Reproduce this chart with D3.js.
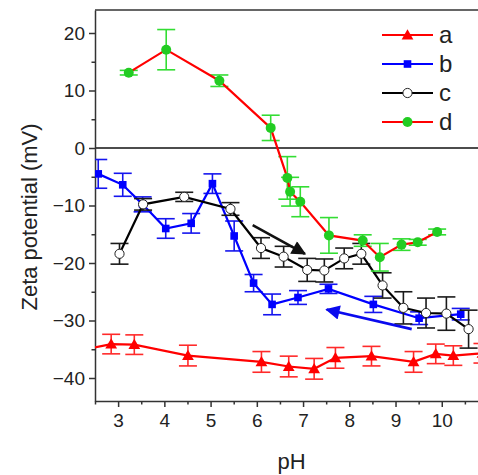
<!DOCTYPE html>
<html>
<head>
<meta charset="utf-8">
<script src="https://cdn.jsdelivr.net/npm/d3@7"></script>
<style>
  body { margin: 0; background: #fff; }
  svg { display: block; font-family: 'Liberation Sans', Arial, sans-serif; }
</style>
</head>
<body>
<svg id="chart" width="478" height="475"></svg>
<script>
// series values: pH, zeta potential (mV), error (+/-)
const phA = [2.3, 2.85, 3.35, 4.51, 6.10, 6.69, 7.24, 7.70, 8.48, 9.39, 9.87, 10.25, 10.88];
const zetaA = [-35.0, -34.1, -34.2, -36.1, -37.2, -38.0, -38.4, -36.5, -36.2, -37.2, -35.8, -36.1, -35.7];
const errA = [1.8, 1.7, 1.7, 1.8, 1.8, 1.8, 1.8, 1.8, 1.7, 1.8, 1.7, 1.7, 1.7];

const phB = [2.57, 3.10, 3.53, 4.03, 4.58, 5.04, 5.51, 5.93, 6.33, 6.89, 7.55, 8.52, 9.51, 10.41];
const zetaB = [-4.5, -6.4, -9.8, -14.0, -13.1, -6.2, -15.3, -23.5, -27.2, -26.0, -24.5, -27.2, -29.6, -28.9];
const errB = [2.5, 2.0, 1.3, 1.7, 1.7, 1.7, 2.6, 1.5, 1.8, 1.2, 0.8, 1.4, 1.1, 1.0];

const phC = [3.03, 3.54, 4.43, 5.43, 6.09, 6.58, 7.09, 7.46, 7.89, 8.26, 8.72, 9.17, 9.66, 10.1, 10.58];
const zetaC = [-18.4, -9.8, -8.5, -10.6, -17.4, -18.9, -21.2, -21.3, -19.2, -18.4, -23.9, -27.8, -28.7, -28.8, -31.5];
const errC = [1.8, 1.0, 0.8, 1.1, 1.8, 1.8, 2.0, 2.0, 1.8, 1.8, 2.2, 2.8, 2.6, 2.9, 3.3];

const phD = [3.23, 4.04, 5.19, 6.30, 6.66, 6.72, 6.94, 7.56, 8.29, 8.66, 9.13, 9.48, 9.90];
const zetaD = [13.1, 17.1, 11.7, 3.5, -5.2, -7.6, -9.35, -15.2, -16.1, -19.0, -16.8, -16.4, -14.6];
const errD = [0.4, 3.5, 1.0, 2.2, 3.7, 2.5, 2.6, 3.1, 1.0, 2.4, 1.0, 0.5, 0.5];

const seriesNames = ['a', 'b', 'c', 'd'];
const xTicks = [3, 4, 5, 6, 7, 8, 9, 10];
const yTicks = [20, 10, 0, -10, -20, -30, -40];

// trend arrows: [pH start, zeta start, pH end, zeta end]
const arrowBlack = [5.91, -13.4, 7.04, -18.4];
const arrowBlue = [9.35, -31.5, 7.51, -28.1];

const dim = { l: 95, t: 10, r: 488, b: 401 };

const svg = d3.select('#chart');

const scaleX = d3.scaleLinear().domain([2.5, 11]).range([dim.l, dim.r]);
const scaleY = d3.scaleLinear().domain([-44, 24]).range([dim.b, dim.t]);

const zip = (xs, ys, es) => xs.map((x, i) => ({ x, y: ys[i], e: es[i] }));

const series = [
  { name: 'a', data: zip(phA, zetaA, errA), line: '#ff0000', bar: '#ff2a2a', marker: 'triangle', fill: '#ff0000', stroke: '#ff0000' },
  { name: 'b', data: zip(phB, zetaB, errB), line: '#0000ff', bar: '#1515ee', marker: 'square', fill: '#0000ff', stroke: '#0000ff' },
  { name: 'c', data: zip(phC, zetaC, errC), line: '#000000', bar: '#1a1a1a', marker: 'circle', fill: '#ffffff', stroke: '#222222' },
  { name: 'd', data: zip(phD, zetaD, errD), line: '#ff0000', bar: '#33dd33', marker: 'dot', fill: '#22cc22', stroke: '#22cc22' },
];

const defs = svg.append('defs');
defs.append('clipPath').attr('id', 'plot-clip')
  .append('rect')
  .attr('x', dim.l)
  .attr('y', dim.t)
  .attr('width', dim.r - dim.l)
  .attr('height', dim.b - dim.t);

const addArrowHead = (id, color) => {
  defs.append('marker')
    .attr('id', id)
    .attr('viewBox', '0 0 10 10')
    .attr('refX', 9)
    .attr('refY', 5)
    .attr('markerWidth', 6.5)
    .attr('markerHeight', 5.5)
    .attr('markerUnits', 'strokeWidth')
    .attr('orient', 'auto')
    .append('path')
    .attr('d', 'M0,0 L10,5 L0,10 Z')
    .attr('fill', color);
};
addArrowHead('head-black', '#111');
addArrowHead('head-blue', '#0a0aee');

// frame top line and zero line
svg.append('line')
  .attr('x1', dim.l).attr('x2', dim.r)
  .attr('y1', dim.t).attr('y2', dim.t)
  .attr('stroke', '#333').attr('stroke-width', 1.5);

svg.append('line')
  .attr('x1', dim.l).attr('x2', dim.r)
  .attr('y1', scaleY(0)).attr('y2', scaleY(0))
  .attr('stroke', '#111').attr('stroke-width', 1.5);

// axes
const xAxis = svg.append('g')
  .attr('transform', `translate(0, ${dim.b})`)
  .call(d3.axisBottom(scaleX).tickValues(xTicks).tickSize(6).tickSizeOuter(0).tickPadding(7));

const xMinor = svg.append('g')
  .attr('transform', `translate(0, ${dim.b})`)
  .call(d3.axisBottom(scaleX).tickValues(d3.range(2.5, 11.01, 1)).tickSize(3.5).tickFormat(''));

const yAxis = svg.append('g')
  .attr('transform', `translate(${dim.l}, 0)`)
  .call(d3.axisLeft(scaleY).tickValues(yTicks).tickSize(6).tickSizeOuter(0).tickPadding(4));

const yMinor = svg.append('g')
  .attr('transform', `translate(${dim.l}, 0)`)
  .call(d3.axisLeft(scaleY).tickValues(d3.range(-45, 25, 10).filter((v) => v > -44)).tickSize(3.5).tickFormat(''));

[xMinor, yMinor].forEach((g) => g.select('.domain').remove());

[xAxis, yAxis, xMinor, yMinor].forEach((g) => {
  g.select('.domain').attr('stroke', '#333').attr('stroke-width', 1.5);
  g.selectAll('line').attr('stroke', '#333').attr('stroke-width', 1.5);
  g.selectAll('text')
    .attr('fill', '#222')
    .style('font-size', '19px')
    .style('font-family', "'Liberation Sans', Arial, sans-serif");
});

svg.append('text')
  .attr('x', scaleX(6.75))
  .attr('y', 469)
  .attr('text-anchor', 'middle')
  .attr('fill', '#222')
  .style('font-size', '22px')
  .text('pH');

svg.append('text')
  .attr('transform', `translate(37, ${scaleY(-12)}) rotate(-90)`)
  .attr('text-anchor', 'middle')
  .attr('fill', '#222')
  .style('font-size', '22px')
  .text('Zeta potential (mV)');

// data
const plot = svg.append('g').attr('clip-path', 'url(#plot-clip)');

const lineGenerator = d3.line()
  .x((d) => scaleX(d.x))
  .y((d) => scaleY(d.y));

const drawMarker = (g, s, x, y) => {
  if (s.marker === 'triangle') {
    g.append('path')
      .attr('d', d3.symbol(d3.symbolTriangle, 60)())
      .attr('transform', `translate(${x}, ${y + 1})`)
      .attr('fill', s.fill);
  } else if (s.marker === 'square') {
    g.append('rect')
      .attr('x', x - 3.8).attr('y', y - 3.8)
      .attr('width', 7.6).attr('height', 7.6)
      .attr('fill', s.fill);
  } else if (s.marker === 'circle') {
    g.append('circle')
      .attr('cx', x).attr('cy', y).attr('r', 4.6)
      .attr('fill', s.fill).attr('stroke', s.stroke).attr('stroke-width', 1);
  } else {
    g.append('circle')
      .attr('cx', x).attr('cy', y).attr('r', 5)
      .attr('fill', s.fill);
  }
};

const drawSeries = (s) => {
  const g = plot.append('g').attr('class', `series-${s.name}`);

  const bars = g.selectAll('.err').data(s.data).enter().append('g').attr('class', 'err');
  bars.append('line')
    .attr('x1', (d) => scaleX(d.x)).attr('x2', (d) => scaleX(d.x))
    .attr('y1', (d) => scaleY(d.y + d.e)).attr('y2', (d) => scaleY(d.y - d.e));
  [1, -1].forEach((sign) => {
    bars.append('line')
      .attr('x1', (d) => scaleX(d.x) - 9).attr('x2', (d) => scaleX(d.x) + 9)
      .attr('y1', (d) => scaleY(d.y + sign * d.e)).attr('y2', (d) => scaleY(d.y + sign * d.e));
  });
  bars.selectAll('line').attr('stroke', s.bar).attr('stroke-width', 1.6);

  g.append('path')
    .attr('d', lineGenerator(s.data))
    .attr('fill', 'none')
    .attr('stroke', s.line)
    .attr('stroke-width', 2.2);

  s.data.forEach((d) => drawMarker(g, s, scaleX(d.x), scaleY(d.y)));
};

series.forEach(drawSeries);

const drawArrow = (a, color, head) => {
  plot.append('line')
    .attr('x1', scaleX(a[0])).attr('y1', scaleY(a[1]))
    .attr('x2', scaleX(a[2])).attr('y2', scaleY(a[3]))
    .attr('stroke', color)
    .attr('stroke-width', 2.6)
    .attr('marker-end', `url(#${head})`);
};
drawArrow(arrowBlack, '#111', 'head-black');
drawArrow(arrowBlue, '#0a0aee', 'head-blue');

// legend
const legend = svg.append('g').attr('transform', 'translate(382, 35)');
series.forEach((s, i) => {
  const row = legend.append('g').attr('transform', `translate(0, ${i * 29})`);
  row.append('line')
    .attr('x1', 0).attr('x2', 51)
    .attr('y1', 0).attr('y2', 0)
    .attr('stroke', s.line).attr('stroke-width', 2.2);
  drawMarker(row, s, 25.5, 0);
  row.append('text')
    .attr('x', 57)
    .attr('y', 8)
    .attr('fill', '#222')
    .style('font-size', '24px')
    .text(seriesNames[i]);
});
</script>
</body>
</html>
